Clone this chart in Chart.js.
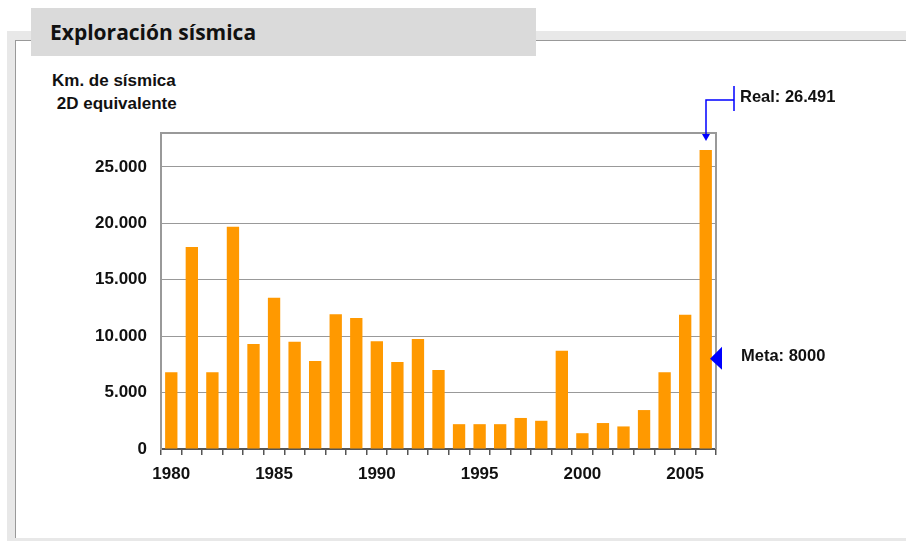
<!DOCTYPE html>
<html>
<head>
  <meta charset="utf-8">
  <title>Exploración sísmica</title>
  <script src="https://cdn.jsdelivr.net/npm/chart.js@4.4.1/dist/chart.umd.min.js"></script>
  <style>
    body {
      margin: 0;
      width: 906px;
      height: 541px;
      overflow: hidden;
      background: #ffffff;
      font-family: "Liberation Sans", Arial, sans-serif;
    }
    .marco {
      position: absolute;
      left: 7px;
      top: 31px;
      width: 899px;
      height: 510px;
      background: #e8e8e8;
    }
    .interior {
      position: absolute;
      left: 15px;
      top: 40px;
      width: 890px;
      height: 497px;
      background: #ffffff;
      border-top: 1px solid #999999;
      border-left: 1px solid #999999;
    }
    .titulo {
      position: absolute;
      left: 31px;
      top: 8px;
      width: 486px;
      height: 48px;
      padding-left: 19px;
      background: #dadada;
      font-family: "Open Sans", sans-serif;
      font-weight: 700;
      font-size: 21px;
      line-height: 48px;
      color: #111111;
    }
    .eje {
      position: absolute;
      left: 52px;
      top: 69px;
      font-weight: bold;
      font-size: 17px;
      line-height: 23px;
      color: #111111;
    }
    canvas {
      position: absolute;
      left: 0;
      top: 0;
    }
  </style>
</head>
<body>
  <div class="marco"></div>
  <div class="interior"></div>
  <div class="titulo">Exploración sísmica</div>
  <div class="eje">Km. de sísmica<br>&nbsp;2D equivalente</div>
  <canvas id="grafico" width="906" height="541"></canvas>
  <script>
    // datos
    var anios = [1980, 1981, 1982, 1983, 1984, 1985, 1986, 1987, 1988, 1989,
                 1990, 1991, 1992, 1993, 1994, 1995, 1996, 1997, 1998, 1999,
                 2000, 2001, 2002, 2003, 2004, 2005, 2006];
    var kmSismica = [6800, 17900, 6800, 19700, 9300, 13400, 9500, 7800, 11950, 11600,
                     9550, 7700, 9750, 7000, 2200, 2200, 2200, 2750, 2500, 8700,
                     1400, 2300, 2000, 3450, 6800, 11900, 26491];
    var meta = 8000;
    var ticksY = [0, 5000, 10000, 15000, 20000, 25000];

    function formato(v) {
      // separador de miles con punto
      return String(v).replace(/\B(?=(\d{3})+(?!\d))/g, '.');
    }

    var fuente = { family: '"Liberation Sans", Arial, sans-serif', size: 17, weight: 'bold' };

    var anotaciones = {
      id: 'anotaciones',
      afterDraw: function(chart) {
        var ctx = chart.ctx;
        var x = chart.scales.x, y = chart.scales.y;
        var area = chart.chartArea;
        ctx.save();

        // marco superior y derecho del area
        ctx.strokeStyle = '#999999';
        ctx.lineWidth = 2;
        ctx.beginPath();
        ctx.moveTo(area.left, area.top);
        ctx.lineTo(area.right, area.top);
        ctx.lineTo(area.right, area.bottom);
        ctx.stroke();

        // Real: flecha al ultimo valor
        var ult = kmSismica.length - 1;
        var bx = Math.round(x.getPixelForValue(ult));
        var by = y.getPixelForValue(kmSismica[ult]);
        var yl = 100, xl = bx + 28;
        ctx.strokeStyle = '#0000ff';
        ctx.fillStyle = '#0000ff';
        ctx.lineWidth = 1.5;
        ctx.beginPath();
        ctx.moveTo(bx, by - 14);
        ctx.lineTo(bx, yl);
        ctx.lineTo(xl, yl);
        ctx.moveTo(xl, yl - 14);
        ctx.lineTo(xl, yl + 11);
        ctx.stroke();
        ctx.beginPath();
        ctx.moveTo(bx - 4, by - 16);
        ctx.lineTo(bx + 4, by - 16);
        ctx.lineTo(bx, by - 9);
        ctx.closePath();
        ctx.fill();

        ctx.fillStyle = '#111111';
        ctx.font = 'bold 16.5px "Liberation Sans", Arial, sans-serif';
        ctx.textBaseline = 'middle';
        ctx.textAlign = 'left';
        ctx.fillText('Real: ' + formato(kmSismica[ult]), xl + 6, yl - 3);

        // Meta: triangulo en el eje derecho
        var ym = y.getPixelForValue(meta);
        ctx.fillStyle = '#0000ff';
        ctx.beginPath();
        ctx.moveTo(area.right - 6, ym);
        ctx.lineTo(area.right + 6, ym - 12);
        ctx.lineTo(area.right + 6, ym + 11);
        ctx.closePath();
        ctx.fill();
        ctx.fillStyle = '#111111';
        ctx.fillText('Meta: ' + meta, area.right + 25, ym - 2);

        ctx.restore();
      }
    };

    var ctx = document.getElementById('grafico').getContext('2d');
    var myChart = new Chart(ctx, {
      type: 'bar',
      data: {
        labels: anios,
        datasets: [{
          data: kmSismica,
          backgroundColor: '#ff9900',
          barPercentage: 0.6,
          categoryPercentage: 1.0
        }]
      },
      options: {
        responsive: false,
        animation: false,
        layout: {
          padding: { left: 0, top: 133, right: 190, bottom: 0 }
        },
        plugins: {
          legend: { display: false },
          tooltip: { enabled: false }
        },
        scales: {
          x: {
            offset: true,
            grid: {
              offset: true,
              drawOnChartArea: false,
              color: '#555555',
              lineWidth: 1.5,
              tickLength: 6
            },
            border: { color: '#555555', width: 2 },
            ticks: {
              autoSkip: false,
              maxRotation: 0,
              padding: 9,
              color: '#111111',
              font: fuente,
              callback: function(v, i) {
                return anios[i] % 5 === 0 ? String(anios[i]) : '';
              }
            },
            afterFit: function(s) { s.height = 92; }
          },
          y: {
            min: 0,
            max: 28000,
            afterBuildTicks: function(s) {
              s.ticks = ticksY.map(function(v) { return { value: v }; });
            },
            grid: {
              color: '#999999',
              lineWidth: 1,
              drawTicks: false
            },
            border: { color: '#999999', width: 2 },
            ticks: {
              padding: 14,
              color: '#111111',
              font: fuente,
              callback: function(v) { return formato(v); }
            },
            afterFit: function(s) { s.width = 161; }
          }
        }
      },
      plugins: [anotaciones]
    });
  </script>
</body>
</html>
